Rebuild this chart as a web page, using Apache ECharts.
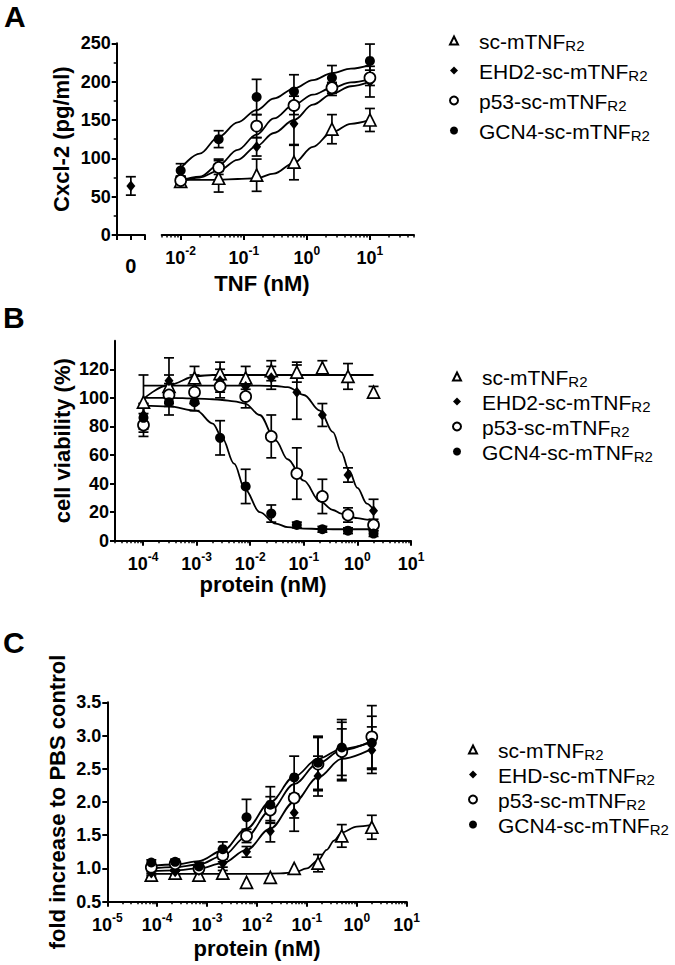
<!DOCTYPE html>
<html><head><meta charset="utf-8">
<script src="https://cdn.jsdelivr.net/npm/echarts@6/dist/echarts.min.js"></script>
<style>html,body{margin:0;padding:0;background:#fff}#c{width:675px;height:965px}</style>
</head><body><div id="c"></div>
<script>
// ================= DATA =================
// Panel A : Cxcl-2 (pg/ml) vs TNF (nM)
const concA = [0.01, 0.04, 0.16, 0.625, 2.5, 10];
const aScMean  = [70, 74, 78, 95, 138, 150];
const aScErr   = [6, 18, 21, 23, 19, 15];
const aEhdMean = [69, 91, 115, 145, 190, 200];
const aEhdErr  = [6, 8, 12, 28, 8, 20];
const aP53Mean = [71, 88, 142, 169, 192, 205];
const aP53Err  = [6, 9, 15, 12, 7, 10];
const aGcnMean = [84, 125, 180, 187, 205, 227];
const aGcnErr  = [9, 11, 23, 22, 16, 22];
const zeroX = [1];
const zeroMean = [64];
const zeroErr = [12];
// fitted curves
const fitXA   = [0.01, 0.02, 0.04, 0.08, 0.16, 0.3, 0.625, 1.25, 2.5, 5, 10];
const fitAsc  = [72, 72, 72, 73, 74, 80, 94, 115, 134, 145, 150];
const fitAehd = [70, 75, 84, 98, 116, 133, 150, 170, 184, 194, 200];
const fitAp53 = [71, 76, 91, 111, 131, 152, 170, 183, 192, 199, 203];
const fitAgcn = [87, 106, 128, 147, 163, 178, 191, 202, 211, 217, 222];

// Panel B : cell viability (%) vs protein (nM)
const concB = [0.000102, 0.000305, 0.000914, 0.00274, 0.00823, 0.0247, 0.0741, 0.222, 0.667, 2];
const bScMean  = [97, 108, 114, 117, 114, 119, 118, 121, 115, 104];
const bScErr   = [19, 8, 8, 8, 8, 7, 7, 5, 9, 4];
const bEhdMean = [88, 112, 106, 112, 108, 114, 104, 88, 46, 21];
const bEhdErr  = [8, 16, 10, 8, 8, 8, 19, 8, 5, 8];
const bP53Mean = [81, 102, 104, 108, 101, 73, 47, 31, 18, 11];
const bP53Err  = [8, 8, 8, 8, 8, 15, 18, 12, 5, 4];
const bGcnMean = [86, 97, 97, 72, 38, 19, 11, 8, 7, 5];
const bGcnErr  = [10, 9, 6, 12, 12, 6, 2, 2, 2, 2];
const fitXB   = [0.0001, 0.0003, 0.001, 0.002, 0.003, 0.005, 0.008, 0.015, 0.03, 0.05, 0.1, 0.2, 0.35, 0.5, 0.7, 1, 1.5, 2];
const fitBsc  = [99, 109, 115.3, 116, 116, 116, 116, 116, 116, 116, 116, 116, 116, 116, 116, 116, 116, 116];
const fitBehd = [108.5, 108.5, 108.5, 108.5, 108.5, 108.5, 108.5, 108.5, 108.3, 107.5, 102, 91, 76, 62, 49, 37, 26, 21.5];
const fitBp53 = [100, 100, 99.5, 99, 98.5, 97.5, 96, 88, 70, 57, 42, 27.5, 21.5, 19, 17, 15.8, 14.8, 14.5];
const fitBgcn = [94.5, 94, 91, 82, 72, 54, 36, 20, 12, 9.5, 8.5, 8.2, 8, 8, 8, 8, 8, 8];

// Panel C : fold increase to PBS control vs protein (nM)
const concC = [0.0000762, 0.000229, 0.000686, 0.00206, 0.00617, 0.0185, 0.0556, 0.167, 0.5, 2];
const cScMean  = [0.90, 0.93, 0.90, 0.93, 0.79, 0.865, 1.00, 1.08, 1.49, 1.62];
const cScErr   = [0.03, 0.03, 0.07, 0.04, 0, 0, 0, 0.13, 0.17, 0.18];
const cEhdMean = [0.93, 0.95, 0.97, 1.08, 1.25, 1.56, 1.84, 2.39, 2.72, 2.78];
const cEhdErr  = [0.03, 0.03, 0.04, 0.06, 0.08, 0.16, 0.28, 0.3, 0.38, 0.35];
const cP53Mean = [1.02, 1.07, 1.00, 1.20, 1.49, 1.88, 2.06, 2.57, 2.76, 2.98];
const cP53Err  = [0.03, 0.03, 0.05, 0.1, 0.1, 0.2, 0.3, 0.4, 0.44, 0.47];
const cGcnMean = [1.09, 1.10, 1.03, 1.29, 1.77, 1.96, 2.37, 2.59, 2.82, 2.89];
const cGcnErr  = [0.04, 0.04, 0.06, 0.11, 0.27, 0.27, 0.32, 0.4, 0.42, 0.4];
const fitXC   = [0.0000762, 0.000229, 0.000686, 0.00206, 0.00617, 0.0185, 0.0556, 0.167, 0.5, 2];
const fitCehd = [0.96, 0.97, 1.00, 1.08, 1.28, 1.60, 2.00, 2.37, 2.65, 2.80];
const fitCp53 = [1.00, 1.02, 1.06, 1.19, 1.48, 1.87, 2.27, 2.58, 2.78, 2.92];
const fitCgcn = [1.04, 1.06, 1.11, 1.27, 1.60, 2.00, 2.38, 2.65, 2.80, 2.90];
const fitXCsc = [0.0000762, 0.001, 0.01, 0.03, 0.0556, 0.1, 0.167, 0.25, 0.35, 0.5, 1, 2];
const fitCsc  = [0.92, 0.92, 0.92, 0.925, 0.94, 1.00, 1.12, 1.28, 1.42, 1.54, 1.63, 1.655];

// legend names / tick values
const namesAB = ['sc-mTNFR2', 'EHD2-sc-mTNFR2', 'p53-sc-mTNFR2', 'GCN4-sc-mTNFR2'];
const namesC  = ['sc-mTNFR2', 'EHD-sc-mTNFR2', 'p53-sc-mTNFR2', 'GCN4-sc-mTNFR2'];
const majorA = [0.01, 0.1, 1, 10];
const majorB = [1e-4, 1e-3, 1e-2, 1e-1, 1, 10];
const majorC = [1e-5, 1e-4, 1e-3, 1e-2, 1e-1, 1, 10];

// ================= HELPERS =================
const FONT = 'Liberation Sans, Arial, Helvetica, sans-serif';
function minorTicks(lo, hi) {
  const out = [];
  for (let e = -6; e <= 2; e++) for (let m = 2; m <= 9; m++) {
    const v = m * Math.pow(10, e);
    if (v >= lo * 0.999 && v <= hi * 1.001) out.push(v);
  }
  return out;
}
const zip2 = (xs, ys) => xs.map((x, i) => [x, ys[i]]);
const zip3 = (xs, ys, es) => xs.map((x, i) => [x, ys[i], es[i]]);
const powRich = {
  b: {fontSize: 18, fontWeight: 'bold', fontFamily: FONT, color: '#000', lineHeight: 22, verticalAlign: 'bottom'},
  s: {fontSize: 12, fontWeight: 'bold', fontFamily: FONT, color: '#000', lineHeight: 12, verticalAlign: 'top'}
};
function powLabel(v) {
  const e = Math.round(Math.log10(v));
  return '{b|10}{s|' + e + '}';
}
const SYM = [
  {symbol: 'triangle', symbolSize: 12, itemStyle: {color: '#fff', borderColor: '#000', borderWidth: 1.7, opacity: 1}},
  {symbol: 'diamond', symbolSize: [9, 11], itemStyle: {color: '#000', borderWidth: 0, opacity: 1}},
  {symbol: 'circle', symbolSize: 11, itemStyle: {color: '#fff', borderColor: '#000', borderWidth: 1.7, opacity: 1}},
  {symbol: 'circle', symbolSize: 10, itemStyle: {color: '#000', borderWidth: 0, opacity: 1}}
];
function errRender(params, api) {
  const x = api.value(0), m = api.value(1), e = api.value(2);
  if (!e) return null;
  const hi = api.coord([x, m + e]), lo = api.coord([x, m - e]);
  const w = 5;
  const st = {stroke: '#000', lineWidth: 1.7, fill: null};
  return {type: 'group', children: [
    {type: 'line', shape: {x1: hi[0], y1: hi[1], x2: lo[0], y2: lo[1]}, style: st},
    {type: 'line', shape: {x1: hi[0] - w, y1: hi[1], x2: hi[0] + w, y2: hi[1]}, style: st},
    {type: 'line', shape: {x1: lo[0] - w, y1: lo[1], x2: lo[0] + w, y2: lo[1]}, style: st}
  ]};
}
const series = [];
function addCurve(xi, yi, xs, ys) {
  series.push({type: 'line', name: 'fit' + series.length, xAxisIndex: xi, yAxisIndex: yi,
    data: zip2(xs, ys), smooth: 0.35, smoothMonotone: 'x', showSymbol: false, symbol: 'none',
    lineStyle: {color: '#000', width: 1.8, opacity: 1}, silent: true, z: 2});
}
function addSet(name, k, xi, yi, xs, ys, es) {
  series.push({type: 'custom', name: 'err' + series.length, xAxisIndex: xi, yAxisIndex: yi,
    data: zip3(xs, ys, es), renderItem: errRender, encode: {x: 0, y: 1}, silent: true, z: 3});
  series.push(Object.assign({type: 'scatter', name: name, xAxisIndex: xi, yAxisIndex: yi,
    data: zip2(xs, ys), silent: true, z: 4}, SYM[k]));
}

// Panel A
addCurve(1, 1, fitXA, fitAsc); addCurve(1, 1, fitXA, fitAehd);
addCurve(1, 1, fitXA, fitAp53); addCurve(1, 1, fitXA, fitAgcn);
addSet(namesAB[0], 0, 1, 1, concA, aScMean, aScErr);
addSet(namesAB[1], 1, 1, 1, concA, aEhdMean, aEhdErr);
addSet(namesAB[2], 2, 1, 1, concA, aP53Mean, aP53Err);
addSet(namesAB[3], 3, 1, 1, concA, aGcnMean, aGcnErr);
addSet(namesAB[1], 1, 0, 0, zeroX, zeroMean, zeroErr);
// Panel B
addCurve(3, 2, fitXB, fitBsc); addCurve(3, 2, fitXB, fitBehd);
addCurve(3, 2, fitXB, fitBp53); addCurve(3, 2, fitXB, fitBgcn);
addSet(namesAB[0], 0, 3, 2, concB, bScMean, bScErr);
addSet(namesAB[1], 1, 3, 2, concB, bEhdMean, bEhdErr);
addSet(namesAB[2], 2, 3, 2, concB, bP53Mean, bP53Err);
addSet(namesAB[3], 3, 3, 2, concB, bGcnMean, bGcnErr);
// Panel C
addCurve(5, 3, fitXCsc, fitCsc); addCurve(5, 3, fitXC, fitCehd);
addCurve(5, 3, fitXC, fitCp53); addCurve(5, 3, fitXC, fitCgcn);
addSet(namesC[0], 0, 5, 3, concC, cScMean, cScErr);
addSet(namesC[1], 1, 5, 3, concC, cEhdMean, cEhdErr);
addSet(namesC[2], 2, 5, 3, concC, cP53Mean, cP53Err);
addSet(namesC[3], 3, 5, 3, concC, cGcnMean, cGcnErr);

const LINE = {show: true, onZero: false, lineStyle: {color: '#000', width: 2}};
function logMajor(grid, min, max, majors, margin, name, nameGap) {
  return {type: 'log', logBase: 10, gridIndex: grid, min: min, max: max, position: 'bottom',
    axisLine: LINE,
    axisTick: {show: true, customValues: majors, length: 5, lineStyle: {color: '#000', width: 2}},
    axisLabel: {show: true, customValues: majors, formatter: powLabel, margin: margin, rich: powRich},
    splitLine: {show: false}, minorTick: {show: false},
    name: name || '', nameLocation: 'middle', nameGap: nameGap || 0,
    nameTextStyle: {fontSize: 22, fontWeight: 'bold', fontFamily: FONT, color: '#000'}};
}
function logMinor(grid, min, max) {
  return {type: 'log', logBase: 10, gridIndex: grid, min: min, max: max, position: 'bottom', offset: 0,
    axisLine: {show: false},
    axisTick: {show: true, customValues: minorTicks(min, max), length: 2.5, lineStyle: {color: '#000', width: 1.5}},
    axisLabel: {show: false}, splitLine: {show: false}};
}
const yLabel = {fontSize: 18, fontWeight: 'bold', fontFamily: FONT, color: '#000', margin: 6};
const yName = {fontSize: 22, fontWeight: 'bold', fontFamily: FONT, color: '#000'};

const option = {
  animation: false,
  backgroundColor: '#fff',
  grid: [
    {left: 116.7, top: 43.3, width: 28.3, height: 191.7},
    {left: 161.7, top: 43.3, width: 252.3, height: 191.7},
    {left: 115, top: 340.7, width: 296, height: 200},
    {left: 107.3, top: 702.3, width: 299.4, height: 199.4}
  ],
  xAxis: [
    {type: 'value', gridIndex: 0, min: 0, max: 2, interval: 1, position: 'bottom',
      axisLine: LINE, axisTick: {show: true, length: 5, lineStyle: {color: '#000', width: 2}},
      axisLabel: {formatter: v => (v === 1 ? '0' : ''), fontSize: 20, fontWeight: 'bold', fontFamily: FONT, color: '#000', margin: 21},
      splitLine: {show: false}},
    logMajor(1, 0.005, 50, majorA, 10),
    logMinor(1, 0.005, 50),
    logMajor(2, 3e-5, 10, majorB, 10, 'protein (nM)', 30),
    logMinor(2, 3e-5, 10),
    logMajor(3, 1e-5, 10, majorC, 10, 'protein (nM)', 36),
    logMinor(3, 1e-5, 10)
  ],
  yAxis: [
    {type: 'value', gridIndex: 0, min: 0, max: 250, interval: 50,
      axisLine: LINE, axisTick: {show: true, length: 5, lineStyle: {color: '#000', width: 2}},
      minorTick: {show: true, splitNumber: 2, length: 3, lineStyle: {color: '#000', width: 1.5}},
      axisLabel: yLabel, splitLine: {show: false},
      name: 'Cxcl-2 (pg/ml)', nameLocation: 'middle', nameGap: 44, nameTextStyle: yName},
    {type: 'value', gridIndex: 1, min: 0, max: 250, show: false, splitLine: {show: false}},
    {type: 'value', gridIndex: 2, min: 0, max: 140, interval: 20,
      axisLine: LINE,
      axisTick: {show: true, length: 5, customValues: [0, 20, 40, 60, 80, 100, 120], lineStyle: {color: '#000', width: 2}},
      axisLabel: Object.assign({customValues: [0, 20, 40, 60, 80, 100, 120]}, yLabel), splitLine: {show: false},
      name: 'cell viability (%)', nameLocation: 'middle', nameGap: 42, nameTextStyle: yName},
    {type: 'value', gridIndex: 3, min: 0.5, max: 3.5, interval: 0.5,
      axisLine: LINE, axisTick: {show: true, length: 5, lineStyle: {color: '#000', width: 2}},
      axisLabel: Object.assign({formatter: v => v.toFixed(1)}, yLabel), splitLine: {show: false},
      name: 'fold increase to PBS control', nameLocation: 'middle', nameGap: 39, nameTextStyle: yName}
  ],
  legend: [
    {data: namesAB, left: 449, top: 28, itemGap: 5},
    {data: namesAB, left: 452, top: 364, itemGap: 0},
    {data: namesC, left: 468, top: 737, itemGap: 0}
  ].map(l => Object.assign({
    orient: 'vertical', padding: 0, itemWidth: 8, itemHeight: 8,
    selectedMode: false,
    formatter: n => '{m|' + n.slice(0, -2) + '}{s|R2}',
    textStyle: {rich: {
      m: {fontSize: 21, fontFamily: FONT, color: '#000', lineHeight: 20, verticalAlign: 'top', padding: [0, 0, 0, 16]},
      s: {fontSize: 15, fontFamily: FONT, color: '#000', lineHeight: 12, padding: [10, 0, 0, 0]}
    }}
  }, l)),
  graphic: [
    {type: 'text', x: 4, y: 16, style: {text: 'A', font: 'bold 30px ' + FONT, fill: '#000', align: 'left', verticalAlign: 'middle'}},
    {type: 'text', x: 3, y: 317, style: {text: 'B', font: 'bold 30px ' + FONT, fill: '#000', align: 'left', verticalAlign: 'middle'}},
    {type: 'text', x: 3, y: 642, style: {text: 'C', font: 'bold 30px ' + FONT, fill: '#000', align: 'left', verticalAlign: 'middle'}},
    {type: 'text', x: 262, y: 283, style: {text: 'TNF (nM)', font: 'bold 22px ' + FONT, fill: '#000', align: 'center', verticalAlign: 'middle'}}
  ],
  series: series
};
const chart = echarts.init(document.getElementById('c'), null, {renderer: 'svg', width: 675, height: 965});
chart.setOption(option);
</script>
</body></html>
